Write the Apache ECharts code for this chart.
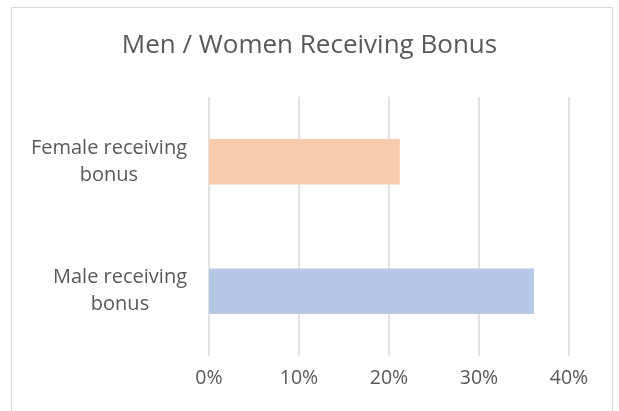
<!DOCTYPE html>
<html>
<head>
<meta charset="utf-8">
<script src="https://cdn.jsdelivr.net/npm/echarts@6/dist/echarts.min.js"></script>
<style>
html, body { margin: 0; padding: 0; background: #fff; }
#main { width: 619px; height: 411px; }
</style>
</head>
<body>
<div id="main"></div>
<script>
// data
var categories = ['Male receiving\nbonus', 'Female receiving\nbonus'];
var shareValues = [0.361, 0.212];
var barColors = ['#B4C7E7', '#F8CBAD'];
var tickValues = [0, 0.1, 0.2, 0.3, 0.4];

var myChart = echarts.init(document.getElementById('main'));

var option = {
    backgroundColor: '#fff',
    textStyle: { fontFamily: 'Open Sans' },
    title: {
        text: 'Men / Women Receiving Bonus',
        left: 'center',
        top: 28,
        textStyle: { fontFamily: 'Open Sans', fontSize: 26, fontWeight: 'normal', color: '#595959' }
    },
    graphic: [{
        type: 'rect',
        shape: { x: 11.5, y: 7.5, width: 601, height: 420 },
        style: { fill: null, stroke: '#d9d9d9', lineWidth: 1 },
        silent: true
    }],
    grid: { left: 209, right: 50, top: 97, bottom: 55 },
    xAxis: {
        type: 'value',
        min: tickValues[0],
        max: tickValues[tickValues.length - 1],
        interval: 0.1,
        axisLine: { show: false },
        axisTick: { show: false },
        splitLine: { lineStyle: { color: '#d9d9d9', width: 1.5 } },
        axisLabel: {
            margin: 12,
            fontSize: 19.5,
            color: '#595959',
            formatter: function (v) { return Math.round(v * 100) + '%'; }
        }
    },
    yAxis: {
        type: 'category',
        data: categories,
        axisLine: { show: false },
        axisTick: { show: false },
        axisLabel: {
            margin: 22,
            formatter: function (v) {
                return v.split('\n').map(function (s) { return '{c|' + s + '}'; }).join('\n');
            },
            rich: {
                c: { align: 'center', fontSize: 20, color: '#595959', lineHeight: 27, fontFamily: 'Open Sans' }
            }
        }
    },
    series: [{
        type: 'bar',
        data: shareValues.map(function (v, i) {
            return { value: v, itemStyle: { color: barColors[i] } };
        }),
        barWidth: '35%',
        silent: true
    }]
};

myChart.setOption(option);
</script>
</body>
</html>
